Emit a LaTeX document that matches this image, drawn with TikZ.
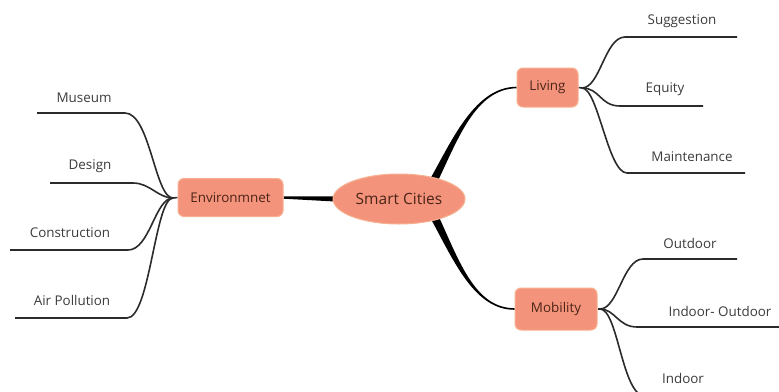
\documentclass[tikz,border=0pt]{standalone}
\usepackage{fontspec}
\setmainfont{Open Sans}
\usetikzlibrary{shapes.geometric,backgrounds}
\definecolor{salmon}{HTML}{F4937B}
\definecolor{salmonedge}{HTML}{F7B090}
\definecolor{nodetext}{HTML}{4A2418}
\definecolor{leaftext}{HTML}{3C3C3C}
\definecolor{twigc}{HTML}{2B2B2B}
\begin{document}
\begin{tikzpicture}[x=1pt,y=-1pt,
  mainbox/.style={rectangle, rounded corners=6pt, fill=salmon, draw=salmonedge, line width=1pt, text=nodetext, font=\fontsize{13.4}{16}\selectfont, inner sep=0pt},
  centre/.style={ellipse, fill=salmon, draw=salmonedge, line width=1pt, text=nodetext, font=\fontsize{15.5}{18}\selectfont, inner sep=0pt},
  leaf/.style={text=leaftext, font=\fontsize{13.4}{16}\selectfont, inner sep=0pt},
  twig/.style={draw=twigc, line width=1.6pt},
  branch/.style={fill=black}]
\clip (0,0) rectangle (779,391);
% main nodes
\node[centre, minimum width=132pt, minimum height=50pt] (sc) at (399,199) {Smart Cities};
\node[mainbox, minimum width=105pt, minimum height=38pt] (env) at (230.5,197.5) {Environmnet};
\node[mainbox, minimum width=61pt, minimum height=39pt] (liv) at (547.5,87.5) {Living};
\node[mainbox, minimum width=82pt, minimum height=42pt] (mob) at (556,309) {Mobility};
% convergence points
\coordinate (envc) at (173,198);
\coordinate (livc) at (582,88);
\coordinate (mobc) at (600,309);
% leaf texts
\node[leaf] (museum) at (84,98) {Museum};
\node[leaf] (design) at (90,166) {Design};
\node[leaf] (constr) at (70,233) {Construction};
\node[leaf] (airpol) at (72,300) {Air Pollution};
\node[leaf] (sugg) at (682,21) {Suggestion};
\node[leaf] (equity) at (665,89) {Equity};
\node[leaf] (maint) at (692,157) {Maintenance};
\node[leaf] (outdoor) at (690,243) {Outdoor};
\node[leaf] (inout) at (720,311) {Indoor- Outdoor};
\node[leaf] (indoor) at (683,378) {Indoor};
% leaf line ends
\coordinate (museumR) at (125,113); \coordinate (museumL) at (37,113);
\coordinate (designR) at (133,183); \coordinate (designL) at (50,183);
\coordinate (constrR) at (128,250); \coordinate (constrL) at (10,250);
\coordinate (airpolR) at (127,318); \coordinate (airpolL) at (15,318);
\coordinate (suggL) at (625,37); \coordinate (suggR) at (737,37);
\coordinate (equityL) at (620,106); \coordinate (equityR) at (703,106);
\coordinate (maintL) at (627,173); \coordinate (maintR) at (745,173);
\coordinate (outdoorL) at (643,259); \coordinate (outdoorR) at (737,259);
\coordinate (inoutL) at (637,327); \coordinate (inoutR) at (785,327);
\coordinate (indoorL) at (645,396); \coordinate (indoorR) at (740,396);
\begin{scope}[on background layer]
\fill[white] (0,0) rectangle (779,391);
% tapered main branches
\fill[branch] ([shift={(4,-2.6)}]sc.west) -- ([shift={(0,-1.2)}]env.east) -- ([shift={(0,1.2)}]env.east) -- ([shift={(4,2.6)}]sc.west) -- cycle;
\fill[branch] ([shift={(0,-0.8)}]liv.west) .. controls (475,87.2) and (452.8,138.8) .. (429.5,180.1) -- (436.5,183.9) .. controls (457.2,141.2) and (475,88.8) .. ([shift={(0,0.8)}]liv.west) -- cycle;
\fill[branch] (431.4,219.8) .. controls (454.8,263.1) and (475,309.8) .. ([shift={(0,0.8)}]mob.west) -- ([shift={(0,-0.8)}]mob.west) .. controls (475,308.2) and (459.2,260.9) .. (438.6,216.2) -- cycle;
% stems
\draw[twig] (env.west) -- (envc);
\draw[twig] (liv.east) -- (livc);
\draw[twig] (mob.east) -- (mobc);
% left twigs
\draw[twig] (envc) .. controls (155,198) and (150,113) .. (museumR) -- (museumL);
\draw[twig] (envc) .. controls (158,198) and (150,183) .. (designR) -- (designL);
\draw[twig] (envc) .. controls (155,198) and (150,250) .. (constrR) -- (constrL);
\draw[twig] (envc) .. controls (155,198) and (150,318) .. (airpolR) -- (airpolL);
% right twigs
\draw[twig] (livc) .. controls (600,88) and (605,37) .. (suggL) -- (suggR);
\draw[twig] (livc) .. controls (600,88) and (600,106) .. (equityL) -- (equityR);
\draw[twig] (livc) .. controls (598,88) and (608,173) .. (maintL) -- (maintR);
\draw[twig] (mobc) .. controls (618,309) and (623,259) .. (outdoorL) -- (outdoorR);
\draw[twig] (mobc) .. controls (615,309) and (618,327) .. (inoutL) -- (inoutR);
\draw[twig] (mobc) .. controls (618,309) and (622,396) .. (indoorL) -- (indoorR);
\end{scope}
\end{tikzpicture}
\end{document}
